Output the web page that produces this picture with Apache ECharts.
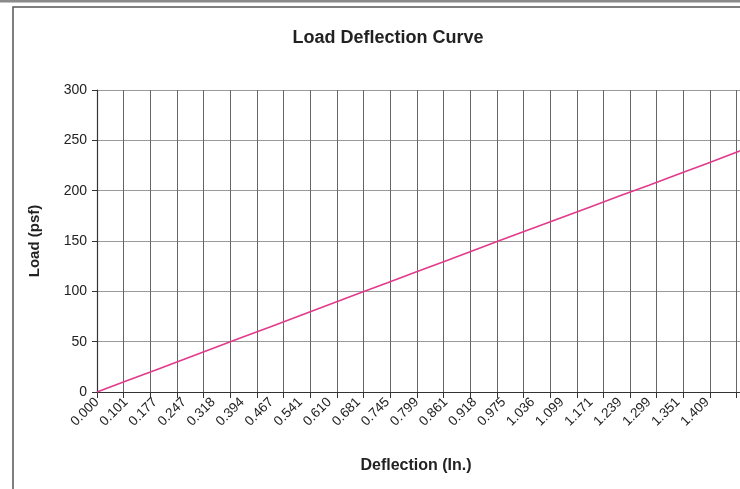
<!DOCTYPE html>
<html>
<head>
<meta charset="utf-8">
<script src="https://cdn.jsdelivr.net/npm/echarts@6/dist/echarts.min.js"></script>
<style>
  html, body { margin: 0; padding: 0; background: #ffffff; }
  #chart { width: 740px; height: 489px; }
</style>
</head>
<body>
<div id="chart"></div>
<script>
// Deflection readings shown on the category-style axis (inches)
const deflectionLabels = ['0.000', '0.101', '0.177', '0.247', '0.318', '0.394', '0.467', '0.541',
  '0.610', '0.681', '0.745', '0.799', '0.861', '0.918', '0.975', '1.036', '1.099', '1.171',
  '1.239', '1.299', '1.351', '1.409'];

// Position of each reading along the horizontal axis (gridlines every 10 units)
const readingPositions = [0, 10.9, 21.8, 32.7, 43.6, 54.5, 65.4, 76.3, 87.2, 98.1, 109.0, 119.9,
  130.8, 141.7, 152.6, 163.5, 174.4, 185.3, 196.2, 207.1, 218.0, 228.9, 245.0];

// Applied load at each reading (psf); the last reading runs past the right edge
const loadValues = [0, 10.9, 21.7, 32.6, 43.4, 54.3, 65.1, 76.0, 86.9, 97.8, 108.6, 119.5,
  130.2, 141.0, 151.9, 162.6, 173.3, 184.1, 194.9, 205.5, 216.4, 227.1, 243.3];

// Load axis tick values
const loadTicks = [0, 50, 100, 150, 200, 250, 300];

const FONT = '"Liberation Sans", Arial, sans-serif';
const labelPositions = readingPositions.slice(0, deflectionLabels.length);

const chart = echarts.init(document.getElementById('chart'), null, { renderer: 'canvas' });

chart.setOption({
  animation: false,
  backgroundColor: '#ffffff',
  title: {
    text: 'Load Deflection Curve',
    left: 383,
    top: 24,
    textAlign: 'center',
    textStyle: { fontFamily: FONT, fontSize: 18, fontWeight: 'bold', color: '#222222' }
  },
  graphic: [
    { type: 'rect', shape: { x: 0, y: 0, width: 740, height: 2.5 }, style: { fill: '#8a8a8a' }, z: 100 },
    { type: 'rect', shape: { x: 13, y: 7, width: 800, height: 520 },
      style: { fill: 'none', stroke: '#555555', lineWidth: 1.5 }, z: 100 },
    // Horizontal axis title, centred under the visible part of the plot
    { type: 'text', x: 416, y: 466,
      style: { text: 'Deflection (In.)', fontFamily: FONT, fontSize: 16, fontWeight: 'bold',
        fill: '#222222', align: 'center', verticalAlign: 'middle' } }
  ],
  // The plot area runs on past the right edge of the page
  grid: { left: 97, top: 90, bottom: 97, width: 693, outerBoundsMode: 'none', containLabel: false },
  xAxis: {
    type: 'value',
    min: 0,
    max: 260,
    interval: 10,
    axisLine: { show: true, onZero: false, lineStyle: { color: '#333333', width: 1.2 } },
    axisTick: { show: true, length: 6, lineStyle: { color: '#333333' } },
    splitLine: { show: true, lineStyle: { color: '#666666', width: 1 } },
    axisLabel: {
      customValues: labelPositions,
      rotate: 45,
      margin: 8,
      fontFamily: FONT,
      fontSize: 13.5,
      color: '#222222',
      formatter: function (v) {
        const i = labelPositions.indexOf(v);
        return i >= 0 ? deflectionLabels[i] : '';
      }
    }
  },
  yAxis: {
    type: 'value',
    min: loadTicks[0],
    max: loadTicks[loadTicks.length - 1],
    interval: loadTicks[1] - loadTicks[0],
    name: 'Load (psf)',
    nameLocation: 'middle',
    nameGap: 55,
    nameRotate: 90,
    nameTextStyle: { fontFamily: FONT, fontSize: 15, fontWeight: 'bold', color: '#222222' },
    axisLine: { show: true, lineStyle: { color: '#333333', width: 1.2 } },
    axisTick: { show: true, length: 5, lineStyle: { color: '#333333' } },
    splitLine: { show: true, lineStyle: { color: '#9a9a9a', width: 1 } },
    axisLabel: { margin: 10, fontFamily: FONT, fontSize: 14, color: '#222222' }
  },
  series: [{
    type: 'line',
    data: readingPositions.map((p, i) => [p, loadValues[i]]),
    symbol: 'none',
    clip: true,
    lineStyle: { color: '#e23a8c', width: 1.6 }
  }]
});
</script>
</body>
</html>
